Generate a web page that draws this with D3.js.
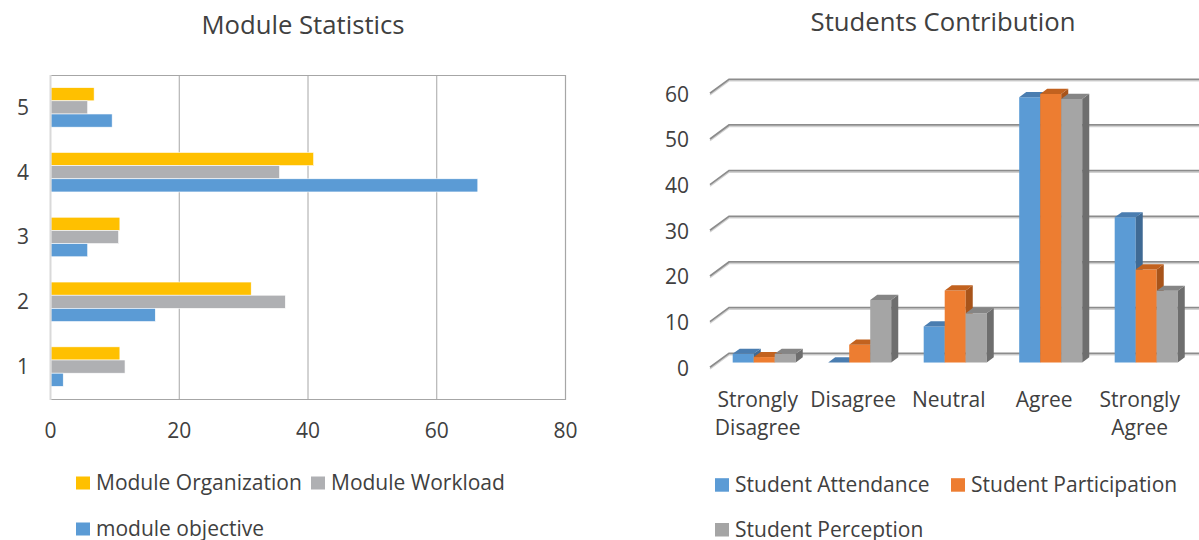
<!DOCTYPE html>
<html>
<head>
<meta charset="utf-8">
<script src="https://cdn.jsdelivr.net/npm/d3@7"></script>
<style>
  html, body { margin: 0; padding: 0; background: #ffffff; }
  svg { display: block; }
  text { font-family: "Open Sans", "Noto Sans", sans-serif; fill: #404040; }
</style>
</head>
<body>
<svg id="chart" width="1199" height="540"></svg>
<script>
// ---------- Left chart data: Module Statistics ----------
const moduleCategories = ["1", "2", "3", "4", "5"];
const moduleOrganization = [10.7, 31.1, 10.7, 40.8, 6.7];
const moduleWorkload = [11.5, 36.4, 10.5, 35.5, 5.7];
const moduleObjective = [1.9, 16.2, 5.7, 66.3, 9.5];
const moduleSeriesNames = ["Module Organization", "Module Workload", "module objective"];
const moduleTicks = [0, 20, 40, 60, 80];

// ---------- Right chart data: Students Contribution ----------
const likertCategories = ["Strongly Disagree", "Disagree", "Neutral", "Agree", "Strongly Agree"];
const studentAttendance = [1.9, 0, 7.9, 58.1, 31.8];
const studentParticipation = [1.2, 3.9, 15.8, 58.8, 20.4];
const studentPerception = [1.9, 13.7, 10.8, 57.7, 15.7];
const studentSeriesNames = ["Student Attendance", "Student Participation", "Student Perception"];
const studentTicks = [0, 10, 20, 30, 40, 50, 60];

const svg = d3.select("#chart");
const FS = 21;
const TFS = 25.7;

// ================= LEFT CHART =================
(function () {
  const g = svg.append("g");
  const left = 50, right = 565, top = 75, bottom = 399;
  const colors = ["#FFC000", "#AFB0B3", "#5B9BD5"];
  const seriesVals = [moduleOrganization, moduleWorkload, moduleObjective];

  const x = d3.scaleLinear().domain([0, 80]).range([left, right]);
  const y = d3.scaleBand().domain(moduleCategories.slice().reverse()).range([top, bottom])
    .paddingInner(0.39).paddingOuter(0.195);
  const ys = d3.scaleBand().domain(moduleSeriesNames).range([0, y.bandwidth()]);

  g.append("text").attr("x", 303).attr("y", 34).attr("text-anchor", "middle")
    .style("font-size", TFS + "px").text("Module Statistics");

  // gridlines
  g.append("g").selectAll("line").data(moduleTicks.filter(t => t > 0 && t < 80)).join("line")
    .attr("x1", d => x(d) + 0.5).attr("x2", d => x(d) + 0.5)
    .attr("y1", top).attr("y2", bottom)
    .attr("stroke", "#A6A6A6").attr("stroke-width", 1);

  // plot border (top, right, bottom)
  g.append("path")
    .attr("d", `M${left},${top + 0.5}H${right + 0.5}V${bottom + 0.5}H${left}`)
    .attr("fill", "none").attr("stroke", "#A6A6A6").attr("stroke-width", 1.2);

  // bars
  const rows = [];
  moduleCategories.forEach((c, i) => {
    moduleSeriesNames.forEach((s, j) => rows.push({ c, s, v: seriesVals[j][i], col: colors[j] }));
  });
  g.append("g").selectAll("rect").data(rows).join("rect")
    .attr("x", x(0) + 1)
    .attr("y", d => y(d.c) + ys(d.s))
    .attr("width", d => Math.max(0, x(d.v) - x(0)))
    .attr("height", ys.bandwidth())
    .attr("fill", d => d.col)
    .attr("stroke", "#ffffff").attr("stroke-width", 0.6);

  // left axis line (light)
  g.append("line").attr("x1", left + 0.5).attr("x2", left + 0.5).attr("y1", top).attr("y2", bottom + 1)
    .attr("stroke", "#D9D9D9").attr("stroke-width", 2);

  // x axis labels
  const xAxis = d3.axisBottom(x).tickValues(moduleTicks).tickSize(0).tickPadding(0);
  const xa = g.append("g").attr("transform", `translate(0,${bottom})`).call(xAxis);
  xa.select(".domain").remove();
  xa.selectAll("text").attr("dy", null).attr("y", 39).style("font-size", FS + "px")
    .style("font-family", null).attr("fill", "#404040");

  // y axis labels
  const yAxis = d3.axisLeft(y).tickSize(0).tickPadding(0);
  const ya = g.append("g").attr("transform", `translate(29,0)`).call(yAxis);
  ya.select(".domain").remove();
  ya.selectAll("text").attr("dy", "0.35em").style("font-size", FS + "px")
    .style("font-family", null).attr("fill", "#404040");

  // legend
  const legendItems = [
    { name: moduleSeriesNames[0], col: colors[0], x: 76, y: 489.5 },
    { name: moduleSeriesNames[1], col: colors[1], x: 311, y: 489.5 },
    { name: moduleSeriesNames[2], col: colors[2], x: 76, y: 535.5 }
  ];
  const lg = g.append("g").selectAll("g").data(legendItems).join("g")
    .attr("transform", d => `translate(${d.x},${d.y})`);
  lg.append("rect").attr("x", 0).attr("y", -13).attr("width", 14).attr("height", 13).attr("fill", d => d.col);
  lg.append("text").attr("x", 20).attr("y", 0).style("font-size", FS + "px").text(d => d.name);
})();

// ================= RIGHT CHART (3D clustered columns) =================
(function () {
  const g = svg.append("g");
  const frontLeft = 710, frontRight = 1187.5;
  const DX = 19, DY = 14;           // depth offset of the back wall
  const d1 = 0.34, d2 = 0.71;       // bar depth range (fraction of floor depth)
  const y = d3.scaleLinear().domain([0, 60]).range([367.3, 93.3]);
  const x = d3.scaleBand().domain(likertCategories).range([frontLeft, frontRight])
    .paddingInner(0.34).paddingOuter(0.17);
  const xs = d3.scaleBand().domain(studentSeriesNames).range([0, x.bandwidth()]);
  const seriesVals = [studentAttendance, studentParticipation, studentPerception];
  const front = ["#5B9BD5", "#ED7D31", "#A5A5A5"];
  const topC = ["#4A7DB0", "#C2621F", "#858585"];
  const sideC = ["#3F6A94", "#A8541A", "#6E6E6E"];

  const P = (px, v, d) => [px + d * DX, y(v) - d * DY];

  g.append("text").attr("x", 943).attr("y", 31).attr("text-anchor", "middle")
    .style("font-size", TFS + "px").text("Students Contribution");

  // gridlines: front-left diagonal then along back wall
  const grid = g.append("g");
  const gridPath = t => {
    const a = P(frontLeft, t, 0), b = P(frontLeft, t, 1);
    return `M${a[0]},${a[1]}L${b[0]},${b[1]}L1205,${b[1]}`;
  };
  grid.selectAll("path.sh").data(studentTicks).join("path").attr("class", "sh")
    .attr("d", gridPath).attr("transform", "translate(0,1.6)")
    .attr("fill", "none").attr("stroke", "#D2D2D2").attr("stroke-width", 1.4);
  grid.selectAll("path.ln").data(studentTicks).join("path").attr("class", "ln")
    .attr("d", gridPath)
    .attr("fill", "none").attr("stroke", "#8C8C8C").attr("stroke-width", 1.8);

  // y labels
  g.append("g").selectAll("text").data(studentTicks).join("text")
    .attr("x", 689).attr("y", d => y(d) + 1).attr("dy", "0.35em").attr("text-anchor", "end")
    .style("font-size", FS + "px").text(d => d);

  // bars
  const bars = g.append("g");
  likertCategories.forEach((c, i) => {
    studentSeriesNames.forEach((s, j) => {
      const v = seriesVals[j][i];
      const x0 = x(c) + xs(s), x1 = x0 + xs.bandwidth();
      const fTL = P(x0, v, d1), fTR = P(x1, v, d1), fBR = P(x1, 0, d1), fBL = P(x0, 0, d1);
      const bTL = P(x0, v, d2), bTR = P(x1, v, d2), bBR = P(x1, 0, d2);
      const poly = pts => "M" + pts.map(p => p.join(",")).join("L") + "Z";
      bars.append("path").attr("d", poly([fTL, fTR, fBR, fBL])).attr("fill", front[j]);
      bars.append("path").attr("d", poly([fTR, bTR, bBR, fBR])).attr("fill", sideC[j]);
      bars.append("path").attr("d", poly([fTL, bTL, bTR, fTR])).attr("fill", topC[j]);
    });
  });

  // category labels (wrapped onto two lines)
  const lab = g.append("g").selectAll("text").data(likertCategories).join("text")
    .attr("x", d => x(d) + x.bandwidth() / 2).attr("y", 406.5).attr("text-anchor", "middle")
    .style("font-size", FS + "px");
  lab.each(function (d) {
    const words = d.split(" ");
    const t = d3.select(this);
    const cx = x(d) + x.bandwidth() / 2;
    words.forEach((w, k) => {
      t.append("tspan").attr("x", cx).attr("dy", k === 0 ? 0 : 28.4).text(w);
    });
  });

  // legend
  const legendItems = [
    { name: studentSeriesNames[0], col: front[0], x: 715, y: 491.7 },
    { name: studentSeriesNames[1], col: front[1], x: 951, y: 491.7 },
    { name: studentSeriesNames[2], col: front[2], x: 715, y: 536.5 }
  ];
  const lg = g.append("g").selectAll("g").data(legendItems).join("g")
    .attr("transform", d => `translate(${d.x},${d.y})`);
  lg.append("rect").attr("x", 0).attr("y", -13.5).attr("width", 14).attr("height", 13.5).attr("fill", d => d.col);
  lg.append("text").attr("x", 20).attr("y", 0).style("font-size", FS + "px").text(d => d.name);
})();
</script>
</body>
</html>
